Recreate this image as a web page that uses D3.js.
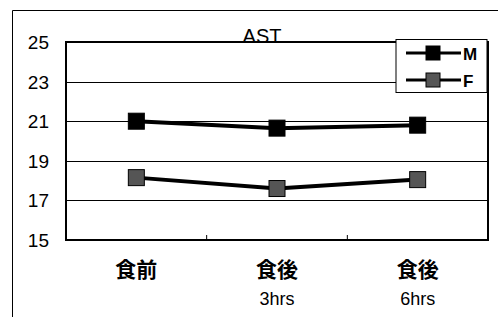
<!DOCTYPE html>
<html>
<head>
<meta charset="utf-8">
<script src="https://d3js.org/d3.v7.min.js"></script>
<style>
  body { margin: 0; background: #fff; }
  text { font-family: "Liberation Sans", Arial, sans-serif; }
</style>
</head>
<body>
<div id="chart"></div>
<script>
// data
var categories = ["食前", "食後\n3hrs", "食後\n6hrs"];
var maleValues = [21.0, 20.65, 20.8];
var femaleValues = [18.15, 17.6, 18.05];
var yTicks = [15, 17, 19, 21, 23, 25];
var seriesNames = ["M", "F"];
var seriesColors = ["#000", "#555"];

var W = 498, H = 317;
var margin = {left: 66, top: 42, right: 10, bottom: 77};

var svg = d3.select("#chart").append("svg")
    .attr("width", W).attr("height", H);

// outer chart frame
svg.append("path")
    .attr("d", "M12.5," + H + "V10.5H" + W)
    .attr("fill", "none").attr("stroke", "#000").attr("stroke-width", 1);

var x = d3.scaleBand().domain(categories).range([margin.left, W - margin.right]);
var y = d3.scaleLinear().domain([15, 25]).range([H - margin.bottom, margin.top]);

// gridlines
svg.append("g").selectAll("line")
    .data(yTicks.slice(1, -1))
    .enter().append("line")
    .attr("x1", margin.left).attr("x2", W - margin.right)
    .attr("y1", function(d) { return Math.round(y(d)) + 0.5; })
    .attr("y2", function(d) { return Math.round(y(d)) + 0.5; })
    .attr("stroke", "#000").attr("stroke-width", 1);

// plot border
svg.append("rect")
    .attr("x", margin.left).attr("y", margin.top)
    .attr("width", W - margin.right - margin.left)
    .attr("height", H - margin.bottom - margin.top)
    .attr("fill", "none").attr("stroke", "#000").attr("stroke-width", 2);

// small inner ticks between categories
svg.append("g").selectAll("line")
    .data(categories.slice(1))
    .enter().append("line")
    .attr("x1", function(d) { return x(d); })
    .attr("x2", function(d) { return x(d); })
    .attr("y1", H - margin.bottom).attr("y2", H - margin.bottom - 5)
    .attr("stroke", "#000").attr("stroke-width", 1);

// y labels
svg.append("g").selectAll("text")
    .data(yTicks)
    .enter().append("text")
    .attr("x", 49).attr("y", function(d) { return y(d) + 7; })
    .attr("text-anchor", "end")
    .attr("font-size", 19)
    .text(function(d) { return d; });

// x labels
var xl = svg.append("g").selectAll("text")
    .data(categories)
    .enter().append("text")
    .attr("x", function(d) { return x(d) + x.bandwidth() / 2; })
    .attr("y", 277)
    .attr("text-anchor", "middle");
xl.each(function(d) {
    var parts = d.split("\n");
    var t = d3.select(this);
    t.append("tspan").attr("x", t.attr("x")).attr("font-size", 21)
        .attr("font-weight", "bold")
        .style("font-family", "'Noto Sans CJK JP', sans-serif")
        .text(parts[0]);
    if (parts[1]) {
        t.append("tspan").attr("x", t.attr("x")).attr("dy", 28)
            .attr("font-size", 18).text(parts[1]);
    }
});

// title
svg.append("text")
    .attr("x", 262).attr("y", 43)
    .attr("text-anchor", "middle")
    .attr("font-size", 20)
    .text("AST");

// series
var series = [maleValues, femaleValues];
var line = d3.line()
    .x(function(d, i) { return x(categories[i]) + x.bandwidth() / 2; })
    .y(function(d) { return y(d); });

series.forEach(function(vals, s) {
    svg.append("path")
        .attr("d", line(vals))
        .attr("fill", "none")
        .attr("stroke", "#000")
        .attr("stroke-width", 4);
    svg.append("g").selectAll("rect")
        .data(vals)
        .enter().append("rect")
        .attr("x", function(d, i) { return x(categories[i]) + x.bandwidth() / 2 - 8; })
        .attr("y", function(d) { return y(d) - 8; })
        .attr("width", 16).attr("height", 16)
        .attr("fill", seriesColors[s])
        .attr("stroke", "#000").attr("stroke-width", 1);
});

// legend
var lg = svg.append("g");
lg.append("rect")
    .attr("x", 396).attr("y", 39.5)
    .attr("width", 91).attr("height", 53)
    .attr("fill", "#fff").attr("stroke", "#000").attr("stroke-width", 1);
seriesNames.forEach(function(name, i) {
    var ly = 53 + i * 27;
    lg.append("line")
        .attr("x1", 406).attr("x2", 461)
        .attr("y1", ly).attr("y2", ly)
        .attr("stroke", "#000").attr("stroke-width", 3);
    lg.append("rect")
        .attr("x", 426).attr("y", ly - 7)
        .attr("width", 14).attr("height", 14)
        .attr("fill", seriesColors[i])
        .attr("stroke", "#000").attr("stroke-width", 1);
    lg.append("text")
        .attr("x", 463).attr("y", ly + 7)
        .attr("font-size", 17).attr("font-weight", "bold")
        .text(name);
});
</script>
</body>
</html>
